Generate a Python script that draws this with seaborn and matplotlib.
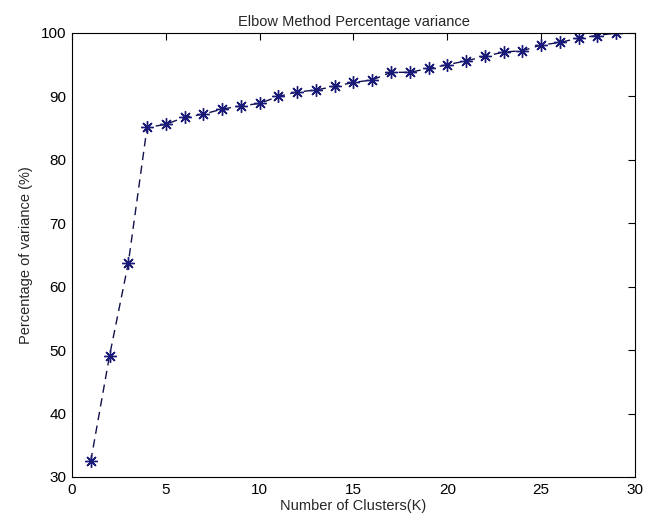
import matplotlib
matplotlib.use("Agg")
import matplotlib.pyplot as plt
import seaborn as sns
import pandas as pd

clusters = list(range(1, 30))
variance = [32.5, 49.1, 63.7, 85.1, 85.6, 86.7, 87.2, 88.0, 88.5, 88.9,
            90.0, 90.7, 91.0, 91.6, 92.2, 92.6, 93.8, 93.8, 94.4, 95.0,
            95.6, 96.3, 97.0, 97.2, 98.1, 98.5, 99.2, 99.6, 100.0]
x_ticks = [0, 5, 10, 15, 20, 25, 30]
y_ticks = [30, 40, 50, 60, 70, 80, 90, 100]

sns.set_style("white")
plt.rcParams['font.family'] = ['Liberation Sans', 'DejaVu Sans']

df = pd.DataFrame({"K": clusters, "var": variance})

fig = plt.figure(figsize=(6.45, 5.31), dpi=100)
ax = fig.add_axes([0.1116, 0.1017, 0.8729, 0.8362])
sns.lineplot(data=df, x="K", y="var", ax=ax, color="#10104a", linestyle=(0, (6, 4)),
             linewidth=1.0, marker=(8, 2, 0), markersize=9, markeredgewidth=1.0,
             markeredgecolor="#1a1a78", markerfacecolor="#1a1a78")
ax.set_xlim(0, 30)
ax.set_ylim(30, 100)
ax.set_xticks(x_ticks)
ax.set_yticks(y_ticks)
ax.tick_params(direction="in", top=True, right=True, length=5, width=0.8,
               labelsize=11, colors="black", pad=4)
for s in ax.spines.values():
    s.set_color("black")
    s.set_linewidth(0.8)
ax.set_xlabel("Number of Clusters(K)", fontsize=10.5, labelpad=2)
ax.set_ylabel("Percentage of variance (%)", fontsize=10.5, labelpad=6)
ax.set_title("Elbow Method Percentage variance", fontsize=10.5, pad=5)
fig.savefig("out.png", dpi=100)
